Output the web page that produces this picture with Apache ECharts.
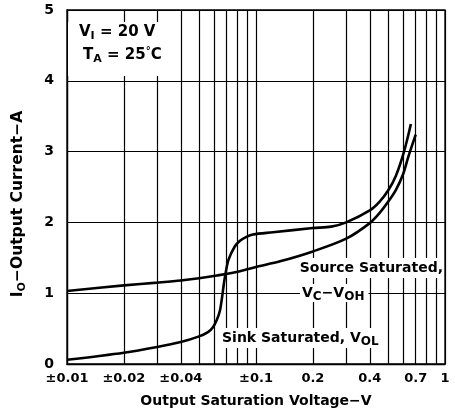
<!DOCTYPE html>
<html>
<head>
<meta charset="utf-8">
<script src="https://cdn.jsdelivr.net/npm/echarts@6/dist/echarts.min.js"></script>
<style>
html,body{margin:0;padding:0;background:#fff;}
#chart{width:455px;height:413px;}
</style>
</head>
<body>
<div id="chart"></div>
<script>
// Output saturation voltage (V) and output current (A)
const sinkV = [0.01, 0.02, 0.03, 0.04, 0.05, 0.0557, 0.0592, 0.062, 0.0645, 0.0662, 0.0675, 0.069, 0.0715, 0.0772, 0.0823, 0.0895, 0.0964, 0.123, 0.2, 0.25, 0.3, 0.4, 0.45, 0.5, 0.55, 0.607, 0.66];
const sinkI = [0.06, 0.16, 0.24, 0.31, 0.39, 0.45, 0.52, 0.62, 0.76, 0.95, 1.12, 1.28, 1.47, 1.66, 1.74, 1.80, 1.83, 1.86, 1.92, 1.94, 2.0, 2.17, 2.29, 2.45, 2.66, 3.0, 3.39];
const sourceV = [0.01, 0.02, 0.03, 0.04, 0.05, 0.0622, 0.0823, 0.1, 0.134, 0.2, 0.3, 0.4, 0.45, 0.5, 0.55, 0.6, 0.64, 0.70];
const sourceI = [1.03, 1.11, 1.15, 1.18, 1.21, 1.25, 1.31, 1.37, 1.45, 1.59, 1.77, 1.99, 2.13, 2.29, 2.46, 2.68, 2.93, 3.24];
const gridValues = [0.01, 0.02, 0.03, 0.04, 0.05, 0.06, 0.07, 0.08, 0.09, 0.1, 0.2, 0.3, 0.4, 0.5, 0.6, 0.7, 0.8, 0.9, 1];
const labelValues = [0.01, 0.02, 0.04, 0.1, 0.2, 0.4, 0.7, 1];
const labelTexts = ['±0.01', '±0.02', '±0.04', '±0.1', '0.2', '0.4', '0.7', '1'];
const yTicks = [0, 1, 2, 3, 4, 5];

const FONT = 'DejaVu Sans, Liberation Sans, sans-serif';
const pair = (xs, ys) => xs.map((x, i) => [x, ys[i]]);

const chart = echarts.init(document.getElementById('chart'), null, {renderer: 'canvas'});
const mainRich = {
  m: {fontFamily: FONT, fontWeight: 'bold', fontSize: 15, lineHeight: 18, color: '#000'},
  s: {fontFamily: FONT, fontWeight: 'bold', fontSize: 11, lineHeight: 18, color: '#000', padding: [8, 0, 0, 0]},
  sup: {fontFamily: FONT, fontWeight: 'bold', fontSize: 10, lineHeight: 18, color: '#000', padding: [0, 0, 8, 0]}
};
const labelRich = {
  m: {fontFamily: FONT, fontWeight: 'bold', fontSize: 14, lineHeight: 18, color: '#000'},
  s: {fontFamily: FONT, fontWeight: 'bold', fontSize: 12, lineHeight: 18, color: '#000', padding: [8, 0, 0, 0]}
};
const titleRich = {
  m: {fontFamily: FONT, fontWeight: 'bold', fontSize: 15.5, lineHeight: 18, color: '#000'},
  s: {fontFamily: FONT, fontWeight: 'bold', fontSize: 11, lineHeight: 18, color: '#000', padding: [8, 0, 0, 0]}
};

chart.setOption({
  animation: false,
  backgroundColor: '#fff',
  grid: {left: 67, right: 10, top: 10, bottom: 48, show: true, borderColor: '#000', borderWidth: 1.3, backgroundColor: 'transparent'},
  xAxis: {
    type: 'log', logBase: 10, min: 0.01, max: 1,
    name: 'Output Saturation Voltage−V', nameLocation: 'middle', nameGap: 30,
    nameTextStyle: {fontFamily: FONT, fontWeight: 'bold', fontSize: 14, color: '#000'},
    axisLine: {show: true, lineStyle: {color: '#000', width: 1.3}},
    axisTick: {show: false, customValues: gridValues},
    splitLine: {show: true, lineStyle: {color: '#000', width: 1.2}},
    axisLabel: {
      customValues: labelValues, margin: 8,
      fontFamily: FONT, fontWeight: 'bold', fontSize: 13, color: '#000',
      formatter: function (v) {
        for (let i = 0; i < labelValues.length; i++) {
          if (Math.abs(labelValues[i] - v) < 1e-9) return labelTexts[i];
        }
        return '';
      }
    }
  },
  yAxis: {
    type: 'value', min: 0, max: 5, interval: 1,
    name: '{m|I}{s|O}{m|−Output Current−A}', nameLocation: 'middle', nameGap: 40,
    nameTextStyle: {rich: titleRich, padding: [0, 34, 0, 0]},
    axisLine: {show: true, lineStyle: {color: '#000', width: 1.3}},
    axisTick: {show: false},
    splitLine: {show: true, lineStyle: {color: '#000', width: 1.2}},
    axisLabel: {margin: 13, fontFamily: FONT, fontWeight: 'bold', fontSize: 14, color: '#000',
      formatter: v => yTicks.indexOf(v) >= 0 ? String(v) : ''}
  },
  series: [
    {type: 'line', name: 'Sink', data: pair(sinkV, sinkI), showSymbol: false, symbol: 'none',
     smooth: 0.3, lineStyle: {color: '#000', width: 2.6}, z: 5},
    {type: 'line', name: 'Source', data: pair(sourceV, sourceI), showSymbol: false, symbol: 'none',
     smooth: 0.3, lineStyle: {color: '#000', width: 2.6}, z: 5}
  ],
  graphic: [
    {type: 'rect', left: 68, top: 22, shape: {width: 103, height: 54}, style: {fill: '#fff'}, z: 10},
    {type: 'text', x: 79, y: 32, z: 11, style: {text: '{m|V}{s|I}{m| = 20 V}', rich: mainRich, verticalAlign: 'middle'}},
    {type: 'text', x: 83, y: 55, z: 11, style: {text: '{m|T}{s|A}{m| = 25}{sup|°}{m|C}', rich: mainRich, verticalAlign: 'middle'}},
    {type: 'text', x: 444, y: 268, z: 11, style: {text: '{m|Source Saturated,}', rich: labelRich, align: 'right', verticalAlign: 'middle', backgroundColor: '#fff', padding: [1, 1, 1, 3]}},
    {type: 'text', x: 300, y: 293, z: 11, style: {text: '{m|V}{s|C}{m|−V}{s|OH}', rich: labelRich, verticalAlign: 'middle', backgroundColor: '#fff', padding: [0, 4, 0, 2]}},
    {type: 'text', x: 220, y: 338, z: 11, style: {text: '{m|Sink Saturated, V}{s|OL}', rich: labelRich, verticalAlign: 'middle', backgroundColor: '#fff', padding: [1, 3, 1, 2]}}
  ]
});
</script>
</body>
</html>
